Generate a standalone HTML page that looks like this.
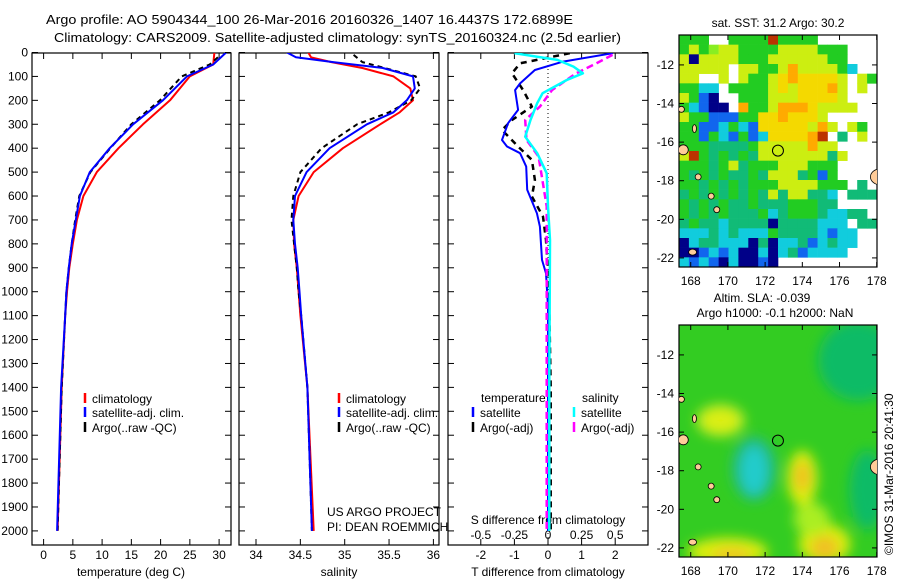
<!DOCTYPE html>
<html><head><meta charset="utf-8">
<style>
html,body{margin:0;padding:0;background:#fff;}
svg{display:block;font-family:"Liberation Sans",sans-serif;}
</style></head>
<body>
<svg id="fig" width="900" height="580" viewBox="0 0 900 580" xmlns="http://www.w3.org/2000/svg">
<defs>
<filter id="blur1" x="-50%" y="-50%" width="200%" height="200%"><feGaussianBlur stdDeviation="6"/></filter>
<clipPath id="clipM1"><rect x="679" y="35" width="198" height="232"/></clipPath>
<clipPath id="clipM2"><rect x="679" y="325" width="198" height="232"/></clipPath>
<clipPath id="clipP1"><rect x="32" y="53" width="199" height="492"/></clipPath>
<clipPath id="clipP2"><rect x="239" y="53" width="200" height="492"/></clipPath>
<clipPath id="clipP3"><rect x="448" y="53" width="200" height="492"/></clipPath>
</defs>
<text x="46" y="24" font-size="13" textLength="527" lengthAdjust="spacingAndGlyphs">Argo profile: AO 5904344_100 26-Mar-2016 20160326_1407 16.4437S 172.6899E</text>
<text x="54" y="42" font-size="13" textLength="567" lengthAdjust="spacingAndGlyphs">Climatology: CARS2009. Satellite-adjusted climatology: synTS_20160324.nc (2.5d earlier)</text>
<g id="g"></g>
</svg>
<script>
// ---- data ----
const tDepth = [0,50,100,200,300,400,500,600,700,800,900,1000,1100,1400,2000];
const tClim  = [29.2,29.0,25.0,21.6,17.0,12.8,9.1,6.8,5.7,5.0,4.4,4.0,3.7,3.1,2.4];
const tSat   = [31.2,29.0,24.5,20.4,15.3,11.3,7.9,6.2,5.5,4.8,4.3,3.9,3.7,3.0,2.3];
const tArgoDepth = [20,50,100,200,300,400,500,600,700,800,900,1000,1100,1400,2000];
const tArgo  = [29.8,28.4,23.6,19.9,15.0,11.4,8.0,6.1,5.4,4.8,4.3,3.9,3.7,3.1,2.4];

const sDepth = [0,20,40,65,100,150,200,250,300,400,500,600,700,800,900,1000,1100,1400,2000];
const sClim  = [34.59,34.62,34.85,35.20,35.55,35.74,35.77,35.62,35.40,34.98,34.65,34.48,34.42,34.43,34.46,34.48,34.50,34.58,34.65];
const sSat   = [34.35,34.45,34.87,35.43,35.77,35.79,35.70,35.55,35.25,34.83,34.57,34.44,34.42,34.44,34.47,34.49,34.51,34.58,34.63];
const sArgoDepth = [10,40,65,100,150,200,250,300,400,500,600,700,800,900,1000,1100,1400,2000];
const sArgo  = [35.10,35.20,35.45,35.80,35.85,35.75,35.50,35.14,34.74,34.50,34.42,34.40,34.43,34.46,34.48,34.51,34.58,34.63];

const dTDepth = [3,38,73,129,157,240,296,366,393,421,477,574,672,728,867,923,1063,1400,2000];
const dTSat   = [1.93,0.45,-0.39,-0.83,-0.98,-0.89,-1.19,-1.37,-1.22,-0.83,-0.65,-0.62,-0.33,-0.24,-0.18,-0.06,0.0,0.0,0.0];
const dTArgoDepth = [3,45,87,157,226,282,324,393,449,533,602,686,784,1000,1400,2000];
const dTArgo  = [0.65,-0.83,-1.07,-0.74,-0.48,-1.07,-1.37,-0.89,-0.48,-0.39,-0.48,-0.15,-0.06,0.03,0.08,0.08];
const dSDepth = [3,31,59,87,115,170,212,282,352,421,505,644,784,1400,2000];
const dSSat   = [-0.25,0.07,0.19,0.26,0.14,-0.04,-0.08,-0.13,-0.17,-0.08,-0.01,0.0,0.015,0.01,0.01];
const dSArgoDepth = [10,45,87,157,226,282,366,435,505,644,1000,1400,2000];
const dSArgo  = [0.48,0.36,0.21,0.03,-0.06,-0.17,-0.16,-0.07,-0.05,-0.01,-0.01,-0.01,-0.01];

const depthTicks = [0,100,200,300,400,500,600,700,800,900,1000,1100,1200,1300,1400,1500,1600,1700,1800,1900,2000];
const tTicks = [0,5,10,15,20,25,30];
const sTicks = [34,34.5,35,35.5,36];
const sTickLabels = ["34","34.5","35","35.5","36"];
const dTTicks = [-2,-1,0,1,2];
const dSTicks = [-0.5,-0.25,0,0.25,0.5];
const dSTickLabels = ["-0.5","-0.25","0","0.25","0.5"];
const latTicks = [-12,-14,-16,-18,-20,-22];
const lonTicks = [168,170,172,174,176,178];
const argoLon = 172.69, argoLat = -16.44;

const sstRows = [
"ggg..ggggrgggg......",
"gyglyyggggyyyyggg...",
"ynyyyygggyyyyyygg...",
"yyyyy.yyggyoyyyygc..",
"yy..y.yggyYoYYYYy.yg",
"ggcc.ggggyYyYYYoy.y.",
"ygbn..gggyyyYYYYy...",
"gcbnn.oggyoooYyyyy..",
"yggbbbggYYoYYYy.....",
"ggbbcgcbYYYYYyoy.yg.",
"ggbgcbgbcYYYYor.G.y.",
"gggGGGGgyyyyyoyy....",
"yrgGgGgGyyyyyyyGy...",
"gggGgyGgggyyyggg....",
"gGgGgGGgGyyyGgbg....",
"ggGgGgGgggyyyyggg.G.",
"GgGgGgGgGyGyyGGc.GGG",
"gGgGgGGgGGGgggGG....",
"gGgGgGGGgcGgggGccGG.",
"GgGGcGGGGnGGGGccc.GG",
"cccGcGcccgGGGGcbcc..",
"ncGGcccnGnccGbcGcc..",
"nnbcbcnncncGbcccc...",
"cbcbncnnbn.........."
];
const sstColors = {g:"#22cc22",G:"#11bb77",y:"#ccee11",Y:"#f4d900",o:"#ffaa00",r:"#bb3300",l:"#88ee22",c:"#11ccdd",b:"#1166ee",n:"#000088"};

// ---- helpers ----
const NS="http://www.w3.org/2000/svg";
const G=document.getElementById('g');
function mk(tag,attrs,parent){const e=document.createElementNS(NS,tag);for(const k in attrs)e.setAttribute(k,attrs[k]);(parent||G).appendChild(e);return e;}
function txt(x,y,s,size,anchor,parent){const e=mk('text',{x:x,y:y,'font-size':size||12,'text-anchor':anchor||'start'},parent);e.textContent=s;return e;}

const pTop=53, pBot=545;
const yD = d => 52.5 + d*0.2392;
const xT = t => 43.6 + t*5.85;
const xS = s => 256 + (s-34)*88.7;
const xdT = v => 548 + v*33.6;
const xdS = v => 548 + v*134.4;

function panel(x0,x1,name){
  const r=mk('rect',{x:x0,y:pTop,width:x1-x0,height:pBot-pTop,fill:'#fff',stroke:'#000','stroke-width':1.2});
  
  
  depthTicks.forEach(d=>{const y=yD(d);
    mk('line',{x1:x0,x2:x0+6,y1:y,y2:y,stroke:'#000'});
    mk('line',{x1:x1-6,x2:x1,y1:y,y2:y,stroke:'#000'});});
}
function xticks(vals,f,x0,labels,name){
  vals.forEach((v,i)=>{const x=f(v);
    mk('line',{x1:x,x2:x,y1:pTop,y2:pTop+6,stroke:'#000'});
    mk('line',{x1:x,x2:x,y1:pBot-6,y2:pBot,stroke:'#000'});
    if(labels){const t=txt(x,559,labels[i],12,'middle');
      
      }
  });
}
function line(ds,vs,fx,color,w,dash,clip,name){
  const pts=ds.map((d,i)=>fx(vs[i]).toFixed(1)+','+yD(d).toFixed(1)).join(' ');
  const a={points:pts,fill:'none',stroke:color,'stroke-width':w,'clip-path':'url(#'+clip+')','stroke-linejoin':'round'};
  if(dash)a['stroke-dasharray']=dash;
  const p=mk('polyline',a);
  
  
}
function legend(x,y,color,label,name){
  mk('line',{x1:x,x2:x,y1:y-10,y2:y,stroke:color,'stroke-width':2.5});
  const t=txt(x+7,y,label,12);
  
  
}

panel(32,231,'temperature-panel');
panel(239,439,'salinity-panel');
panel(448,648,'difference-panel');
depthTicks.forEach(d=>{const t=txt(28,yD(d)+4,String(d),12,'end');
  
  });
xticks(tTicks,xT,32,tTicks.map(String),'temperature-tick-label');
xticks(sTicks,xS,239,sTickLabels,'salinity-tick-label');
xticks(dTTicks,xdT,448,dTTicks.map(String),'t-diff-tick-label');
dSTicks.forEach((v,i)=>{const t=txt(xdS(v),539,dSTickLabels[i],12,'middle');
  
  });

let a;
a=txt(131,576,'temperature (deg C)',12,'middle');
a=txt(339,576,'salinity',12,'middle');
a=txt(548,576,'T difference from climatology',12,'middle');
a=txt(548,524,'S difference from climatology',12,'middle');
a=txt(327,516,'US ARGO PROJECT',12);
a=txt(327,531,'PI: DEAN ROEMMICH',12);

mk('line',{x1:548,x2:548,y1:pTop,y2:pBot,stroke:'#000','stroke-width':1,'stroke-dasharray':'1,3'});

line(tDepth,tClim,xT,'#f00',2,null,'clipP1','temp-climatology-line');
line(tArgoDepth,tArgo,xT,'#000',2,'5,4','clipP1','temp-argo-line');
line(tDepth,tSat,xT,'#00f',2,null,'clipP1','temp-satellite-line');

line(sDepth,sClim,xS,'#f00',2,null,'clipP2','sal-climatology-line');
line(sArgoDepth,sArgo,xS,'#000',2,'5,4','clipP2','sal-argo-line');
line(sDepth,sSat,xS,'#00f',2,null,'clipP2','sal-satellite-line');

line(dTArgoDepth,dTArgo,xdT,'#000',2.5,'6,5','clipP3','t-diff-argo-line');
line(dTDepth,dTSat,xdT,'#00f',2,null,'clipP3','t-diff-satellite-line');
line(dSArgoDepth,dSArgo,xdS,'#f0f',2.5,'7,4','clipP3','s-diff-argo-line');
line(dSDepth,dSSat,xdS,'#0ff',2.5,null,'clipP3','s-diff-satellite-line');

legend(85,403,'#f00','climatology','legend-climatology');
legend(85,417,'#00f','satellite-adj. clim.','legend-satellite-adj');
legend(85,432,'#000','Argo(..raw -QC)','legend-argo');
legend(339,403,'#f00','climatology','legend-climatology-sal');
legend(339,417,'#00f','satellite-adj. clim.','legend-satellite-adj-sal');
legend(339,432,'#000','Argo(..raw -QC)','legend-argo-sal');
a=txt(481,402,'temperature',12);
a=txt(582,402,'salinity',12);
legend(473,417,'#00f','satellite','legend-t-satellite');
legend(473,432,'#000','Argo(-adj)','legend-t-argo');
legend(574,417,'#0ff','satellite','legend-s-satellite');
legend(574,432,'#f0f','Argo(-adj)','legend-s-argo');

function mapAxes(y0,name){
  const lonX = l => 679 + (l-167.37)*18.6;
  const latY = l => y0 + (-10.45 - l)*19.3;
  const r=mk('rect',{x:679,y:y0,width:198,height:232,fill:'none',stroke:'#000','stroke-width':1.2});
  
  
  latTicks.forEach(l=>{const y=latY(l);
    mk('line',{x1:679,x2:684,y1:y,y2:y,stroke:'#000'});
    mk('line',{x1:872,x2:877,y1:y,y2:y,stroke:'#000'});
    const t=txt(674,y+4,String(l),12,'end');
    
    });
  lonTicks.forEach(l=>{const x=lonX(l);
    mk('line',{x1:x,x2:x,y1:y0,y2:y0+5,stroke:'#000'});
    mk('line',{x1:x,x2:x,y1:y0+227,y2:y0+232,stroke:'#000'});
    const t=txt(x,y0+250,String(l),12,'middle');
    
    });
  return [lonX,latY];
}
const cw=198/20, ch=232/24;
sstRows.forEach((row,r)=>{[...row].forEach((c,k)=>{
  if(c==='.')return;
  const e=mk('rect',{x:(679+k*cw).toFixed(2),y:(35+r*ch).toFixed(2),width:cw+0.3,height:ch+0.3,fill:sstColors[c]});
  
  
});});
let [lx1,ly1]=mapAxes(35,'sst-map');
a=txt(778,27,'sat. SST: 31.2 Argo: 30.2',12,'middle');
function islands(latY,lonX,clip){
  const isl=[[167.6,-16.4,5,5],[168.4,-17.8,3,3],[169.1,-18.8,3,3],[169.4,-19.5,3,3],[168.1,-21.7,4,3],[167.5,-14.3,3,3],[168.2,-15.3,2,4]];
  isl.forEach(i=>{const e=mk('ellipse',{cx:lonX(i[0]),cy:latY(i[1]),rx:i[2],ry:i[3],fill:'#ffcc99',stroke:'#000','stroke-width':0.8,'clip-path':'url(#'+clip+')'});
    
    });
  const f=mk('ellipse',{cx:lonX(178.2),cy:latY(-17.8),rx:10,ry:8,fill:'#ffcc99',stroke:'#000','stroke-width':0.8,'clip-path':'url(#'+clip+')'});
  
  
}
islands(ly1,lx1,'clipM1');
let c1=mk('circle',{cx:lx1(argoLon),cy:ly1(argoLat),r:5.5,fill:'none',stroke:'#000','stroke-width':1});


a=txt(762,302,'Altim. SLA: -0.039',12,'middle');
a=txt(775,317,'Argo h1000: -0.1 h2000: NaN',12,'middle');
const lx2 = l=>679+(l-167.37)*18.6, ly2 = l=>325+(-10.45-l)*19.3;
const slaG=mk('g',{'clip-path':'url(#clipM2)'});
mk('rect',{x:679,y:325,width:198,height:232,fill:'#33cc22'},slaG);
const bl=mk('g',{filter:'url(#blur1)'},slaG);
const blobs=[[177,-12.3,40,40,'#11bb66'],[177.5,-19,18,40,'#11bb66'],[169.6,-15.4,24,16,'#ccee22'],[169.6,-15.4,14,9,'#ddee11'],[171.4,-17.9,22,32,'#22bb88'],[171.4,-18,13,24,'#22cccc'],[174,-18.4,15,28,'#ddee11'],[174,-18.3,8,15,'#f0c020'],[175.2,-21.8,26,20,'#ddee11'],[175.2,-22,14,12,'#f0c020'],[170,-22.2,40,14,'#ddee11'],[170.2,-22.4,20,8,'#f0c820'],[174.5,-20.5,18,16,'#aaee22']];
blobs.forEach(b=>{const e=mk('ellipse',{cx:lx2(b[0]),cy:ly2(b[1]),rx:b[2],ry:b[3],fill:b[4]},bl);
  
  });
mapAxes(325,'sla-map');
islands(ly2,lx2,'clipM2');
let c2=mk('circle',{cx:lx2(argoLon),cy:ly2(argoLat),r:5.5,fill:'none',stroke:'#000','stroke-width':1});

a=txt(0,0,'©IMOS 31-Mar-2016 20:41:30',12,'start');
a.setAttribute('transform','translate(893,555) rotate(-90)');

</script>
</body></html>
